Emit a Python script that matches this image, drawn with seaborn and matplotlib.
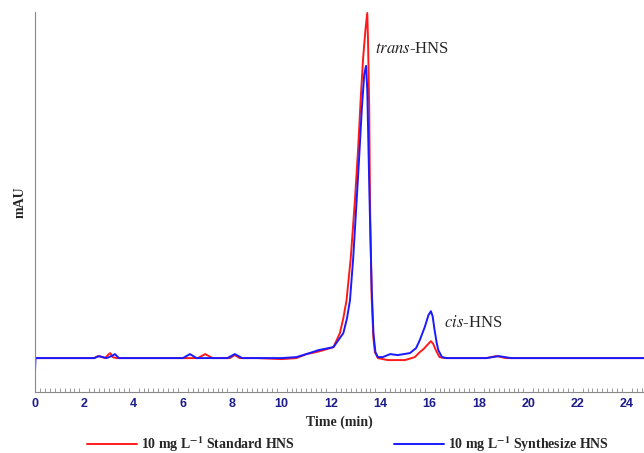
import matplotlib
matplotlib.use("Agg")
import matplotlib.pyplot as plt
import seaborn as sns
import pandas as pd
from matplotlib.ticker import MultipleLocator

t_red = [0, 2.4, 2.55, 2.7, 2.85, 2.95, 3.05, 3.15, 3.3, 3.6,
         6.6, 6.9, 7.2, 7.9, 8.1, 8.3, 9.0, 10.0, 10.6, 11.0,
         11.4, 11.7, 12.1, 12.36, 12.5, 12.63, 12.8, 12.97, 13.1, 13.2,
         13.3, 13.4, 13.47, 13.5, 13.55, 13.58, 13.65, 13.72, 13.78, 13.9,
         14.3, 15.0, 15.4, 15.6, 15.75, 15.9, 16.05, 16.15, 16.25, 16.4,
         16.6, 18.3, 18.7, 19.1, 20, 24.7]
v_red = [0, 0, 2, 1, 0, 3, 5, 1, 0, 0,
         0, 4, 0, 0, 3, 0, 0, -1, 0, 4,
         6, 8, 11, 25, 40, 58, 100, 158, 210, 258,
         300, 330, 346, 320, 250, 158, 60, 20, 6, 0,
         -2, -2, 1, 6, 9, 13, 17, 14, 8, 1,
         0, 0, 2, 0, 0, 0]

t_blue = [0, 0.02, 2.4, 2.6, 2.75, 2.9, 3.1, 3.24, 3.4, 6.0,
          6.28, 6.55, 7.8, 8.1, 8.4, 10.0, 10.6, 11.0, 11.5, 12.1,
          12.5, 12.65, 12.77, 12.9, 13.04, 13.15, 13.25, 13.35, 13.42, 13.47,
          13.52, 13.58, 13.65, 13.72, 13.8, 13.9, 14.1, 14.4, 14.7, 15.2,
          15.45, 15.6, 15.8, 15.95, 16.05, 16.12, 16.2, 16.28, 16.35, 16.5,
          16.7, 18.3, 18.8, 19.3, 24.7]
v_blue = [-14, 0, 0, 2, 1, 0, 2, 4, 0, 0,
          4, 0, 0, 4, 0, 0, 1, 4, 8, 11,
          25, 40, 58, 100, 158, 205, 250, 285, 293, 270,
          210, 140, 70, 25, 6, 1, 1, 4, 3, 5,
          10, 18, 31, 43, 47, 42, 28, 16, 8, 1,
          0, 0, 2, 0, 0]

label_red = "10 mg L$^{-1}$ Standard HNS"
label_blue = "10 mg L$^{-1}$ Synthesize HNS"
x_ticks = [0, 2, 4, 6, 8, 10, 12, 14, 16, 18, 20, 22, 24]

df = pd.concat([
    pd.DataFrame({"Time": t_red, "mAU": v_red, "Sample": label_red}),
    pd.DataFrame({"Time": t_blue, "mAU": v_blue, "Sample": label_blue}),
], ignore_index=True)

sns.set_style("white")
plt.rcParams["font.family"] = ["Liberation Serif", "DejaVu Serif"]
plt.rcParams["mathtext.fontset"] = "stix"
plt.rcParams["mathtext.default"] = "bf"

fig = plt.figure(figsize=(6.44, 4.53), dpi=100)
ax = fig.add_axes([35 / 644, 1 - 392 / 453, 1 - 35 / 644, (392 - 12) / 453])

sns.lineplot(data=df, x="Time", y="mAU", hue="Sample",
             palette={label_red: "#ff1a1a", label_blue: "#1a1aff"},
             hue_order=[label_red, label_blue],
             sort=False, estimator=None, linewidth=1.4, ax=ax, legend=True)

ax.set_xlim(0, 24.69)
ax.set_ylim(-34, 347)
ax.set_xticks(x_ticks)
ax.xaxis.set_minor_locator(MultipleLocator(0.2))
ax.set_yticks([])
ax.tick_params(axis="x", which="major", direction="in", length=5, width=0.8,
               colors="#888888", labelcolor="#1c1c8a", pad=4)
ax.tick_params(axis="x", which="minor", direction="in", length=3, width=0.6,
               colors="#888888", bottom=True)
for lab in ax.get_xticklabels():
    lab.set_fontfamily("Liberation Sans")
    lab.set_fontweight("bold")
    lab.set_fontsize(9)

for s in ["top", "right"]:
    ax.spines[s].set_visible(False)
for s in ["left", "bottom"]:
    ax.spines[s].set_color("#888888")
    ax.spines[s].set_linewidth(0.8)

ax.set_xlabel("Time (min)", fontsize=10, fontweight="bold", labelpad=4)
ax.set_ylabel("mAU", fontsize=10, fontweight="bold", labelpad=6)

ax.text(13.8, 310, r"$\mathit{trans}$-HNS", fontsize=12, ha="left", va="center",
        fontweight="normal")
ax.text(16.6, 35, r"$\mathit{cis}$-HNS", fontsize=12, ha="left", va="center",
        fontweight="normal")

handles, labels = ax.get_legend_handles_labels()
ax.get_legend().remove()
fig.legend(handles, labels, loc="center left", bbox_to_anchor=(87 / 644, 1 - 444 / 453),
           ncol=2, frameon=False, columnspacing=7.1, handlelength=3.6,
           handletextpad=0.3, borderaxespad=0, borderpad=0,
           prop={"family": "Liberation Serif", "weight": "bold", "size": 10})

fig.savefig("out.png", dpi=100)
